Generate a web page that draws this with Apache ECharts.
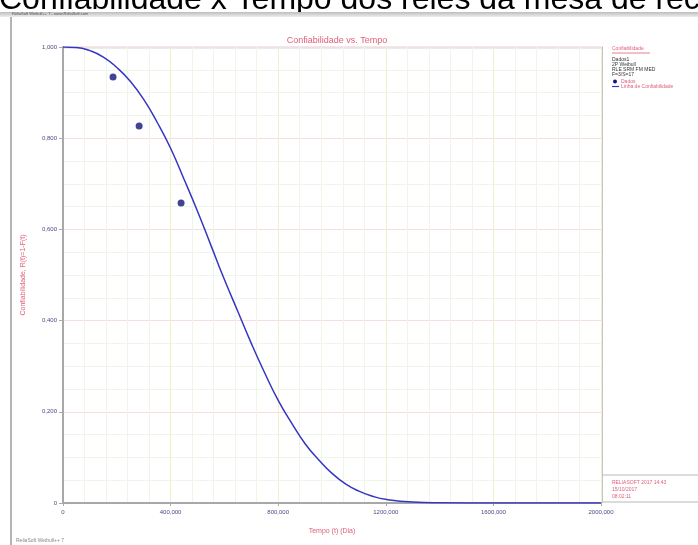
<!DOCTYPE html>
<html>
<head>
<meta charset="utf-8">
<script src="https://cdn.jsdelivr.net/npm/echarts@6/dist/echarts.min.js"></script>
<style>
html,body{margin:0;padding:0;background:#fff;}
#c{width:698px;height:545px;}
</style>
</head>
<body>
<div id="c"></div>
<script>
// ---- data ----
var pointTimes = [186, 283, 439];
var pointRel   = [0.934, 0.827, 0.658];
var curveTimes = [0, 50, 100, 150, 200, 250, 300, 350, 400, 450, 500, 550, 600, 650, 700, 750, 800, 850, 900, 950, 1000, 1050, 1100, 1150, 1200, 1300, 1400, 1600, 1800, 2000];
var curveRel   = [1.000, 0.999, 0.992, 0.978, 0.955, 0.925, 0.885, 0.835, 0.778, 0.710, 0.640, 0.565, 0.490, 0.420, 0.350, 0.285, 0.225, 0.175, 0.130, 0.095, 0.065, 0.042, 0.026, 0.015, 0.008, 0.002, 0.0005, 0, 0, 0];
var xTicks = [0, 400, 800, 1200, 1600, 2000];
var yTicks = [0, 0.2, 0.4, 0.6, 0.8, 1.0];
var legendInfo = ['Dados1', '2P Weibull', 'RLE SRM FM MED', 'F=3/S=17'];
var stampInfo = ['RELIASOFT 2017 14:43', '15/10/2017', '08:02:11'];

var scatterData = pointTimes.map(function (t, i) { return [t, pointRel[i]]; });
var lineData = curveTimes.map(function (t, i) { return [t, curveRel[i]]; });

var chart = echarts.init(document.getElementById('c'), null, {renderer: 'canvas'});
var red = '#e0607a';
var font = '"Liberation Sans", Arial, sans-serif';

var option = {
  animation: false,
  backgroundColor: '#ffffff',
  title: {
    text: 'Confiabilidade vs. Tempo',
    left: 332, top: 31, textAlign: 'center',
    textStyle: {color: red, fontSize: 9, fontWeight: 'normal', fontFamily: font}
  },
  grid: {left: 63, right: 97, top: 47, bottom: 42, show: false},
  xAxis: {
    type: 'value', min: 0, max: 2000, interval: 400,
    axisLine: {show: true, lineStyle: {color: '#a8a8a8', width: 2}},
    axisTick: {show: true, length: 3, lineStyle: {color: '#a8a8a8'}},
    axisLabel: {
      color: '#4a4a86', fontSize: 6, fontFamily: font, margin: 6,
      formatter: function (v) { return v === 0 ? '0' : v + ',000'; }
    },
    splitLine: {show: true, lineStyle: {color: '#f2f0c8', width: 1}},
    minorTick: {show: false, splitNumber: 5},
    minorSplitLine: {show: true, lineStyle: {color: '#eef6ea', width: 1}},
    name: 'Tempo (t) (Dia)', nameLocation: 'middle', nameGap: 25,
    nameTextStyle: {color: red, fontSize: 7, fontFamily: font}
  },
  yAxis: {
    type: 'value', min: 0, max: 1, interval: 0.2,
    axisLine: {show: true, lineStyle: {color: '#a8a8a8', width: 2}},
    axisTick: {show: true, length: 4, lineStyle: {color: '#a8a8a8'}},
    axisLabel: {
      color: '#4a4a86', fontSize: 6, fontFamily: font, margin: 6,
      formatter: function (v) { return v === 0 ? '0' : v.toFixed(3).replace('.', ','); }
    },
    splitLine: {show: true, lineStyle: {color: '#f6dede', width: 1}},
    minorTick: {show: false, splitNumber: 4},
    minorSplitLine: {show: true, lineStyle: {color: '#eef6ea', width: 1}},
    name: 'Confiabilidade, R(t)=1-F(t)', nameLocation: 'middle', nameGap: 36,
    nameTextStyle: {color: red, fontSize: 7, fontFamily: font}
  },
  series: [
    {
      type: 'line', data: lineData, smooth: true, showSymbol: false,
      lineStyle: {color: '#3636c0', width: 1.5}, z: 3
    },
    {
      type: 'scatter', data: scatterData, symbol: 'circle', symbolSize: 7,
      itemStyle: {color: '#14147a'}, z: 4
    }
  ],
  graphic: [
    // big heading (clipped at the top)
    {type: 'text', x: -1, y: -16, z: 5,
     style: {text: 'Confiabilidade x Tempo dos relés da mesa de recepção', font: '32px ' + font, fill: '#000'}},
    // window bar
    {type: 'rect', z: 6, shape: {x: 0, y: 12, width: 698, height: 5},
     style: {fill: new echarts.graphic.LinearGradient(0, 0, 0, 1, [{offset: 0, color: '#bdbdbd'}, {offset: 1, color: '#ededed'}])}},
    {type: 'text', z: 7, x: 12, y: 12, style: {text: 'ReliaSoft Weibull++ 7 - www.ReliaSoft.com', font: '4px ' + font, fill: '#555'}},
    // frame lines
    {type: 'line', shape: {x1: 11, y1: 17, x2: 11, y2: 545}, style: {stroke: '#b4b4b4', lineWidth: 2}},
    {type: 'line', shape: {x1: 63, y1: 47.5, x2: 603, y2: 47.5}, style: {stroke: '#b0b0b0', lineWidth: 1.5}},
    {type: 'line', shape: {x1: 602, y1: 47, x2: 602, y2: 503}, style: {stroke: '#b0b0b0', lineWidth: 1.5}},
    // legend panel
    {type: 'text', x: 612, y: 46, style: {text: 'Confiabilidade', font: '5px ' + font, fill: red}},
    {type: 'line', shape: {x1: 612, y1: 53, x2: 650, y2: 53}, style: {stroke: red, lineWidth: 0.8}},
    {type: 'text', x: 612, y: 57, style: {text: legendInfo.join('\n'), font: '5px ' + font, fill: '#333', lineHeight: 5}},
    {type: 'circle', shape: {cx: 615, cy: 81.5, r: 2}, style: {fill: '#14147a'}},
    {type: 'text', x: 621, y: 79, style: {text: 'Dados', font: '5px ' + font, fill: red}},
    {type: 'line', shape: {x1: 612, y1: 86.5, x2: 619, y2: 86.5}, style: {stroke: '#3636c0', lineWidth: 1.2}},
    {type: 'text', x: 621, y: 84, style: {text: 'Linha de Confiabilidade', font: '5px ' + font, fill: red}},
    // stamp box
    {type: 'line', shape: {x1: 603, y1: 475, x2: 698, y2: 475}, style: {stroke: '#b8b8b8', lineWidth: 1}},
    {type: 'line', shape: {x1: 603, y1: 502, x2: 698, y2: 502}, style: {stroke: '#b8b8b8', lineWidth: 1}},
    {type: 'text', x: 612, y: 479, style: {text: stampInfo.join('\n'), font: '5px ' + font, fill: red, lineHeight: 7}},
    // footer
    {type: 'text', x: 16, y: 538, style: {text: 'ReliaSoft Weibull++ 7', font: '5px ' + font, fill: '#888'}}
  ]
};
chart.setOption(option);
</script>
</body>
</html>
